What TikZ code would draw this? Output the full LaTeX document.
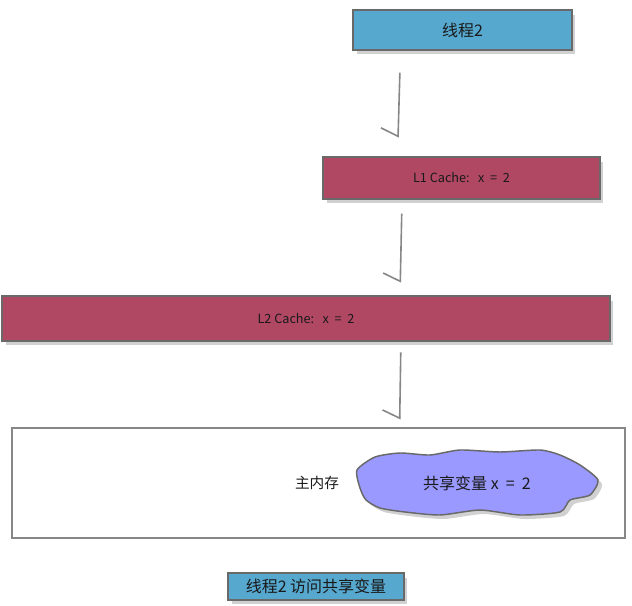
\documentclass[tikz,border=0pt]{standalone}
\usepackage{fontspec}
\setmainfont{Noto Sans CJK SC}
\usetikzlibrary{arrows.meta}
\definecolor{tblue}{RGB}{86,168,207}
\definecolor{crim}{RGB}{176,72,100}
\definecolor{blobc}{RGB}{153,153,255}
\definecolor{edge}{RGB}{105,105,105}
\definecolor{txt}{RGB}{25,25,25}
\tikzset{
  box/.style={draw=edge, line width=1.1pt, inner sep=0pt, text=txt},
  bluebox/.style={box, fill=tblue},
  crimbox/.style={box, fill=crim},
  conn/.style={draw=edge!80, line width=1.2pt, -{Straight Barb[harpoon,swap,length=6pt,width=26pt]}},
  shad/.style={fill=black, opacity=0.18},
}
\begin{document}
\begin{tikzpicture}[x=0.75pt,y=-0.75pt]
\useasboundingbox (0,0) rectangle (632,606);
% shadows
\fill[shad] (357,15) rectangle (575,54);
\fill[shad] (327,162) rectangle (603,203);
\fill[shad] (6,301) rectangle (613,345);
\fill[shad] (232,578) rectangle (407,604);
% boxes
\node[bluebox, minimum width=164.25pt, minimum height=30pt] (thread) at (462.5,30) {\fontsize{12}{14}\selectfont 线程2};
\node[crimbox, minimum width=207.75pt, minimum height=31.5pt] (l1) at (461.5,178) {\fontsize{9.5}{11}\selectfont L1 Cache:\ \ \ x\ \ =\ \ 2};
\node[crimbox, minimum width=456pt, minimum height=33.75pt] (l2) at (306,318.5) {\fontsize{9.5}{11}\selectfont L2 Cache:\ \ \ x\ \ =\ \ 2};
\node[box, fill=white, draw=edge!80, line width=0.8pt, minimum width=459.75pt, minimum height=82.5pt] (mem) at (318.5,483) {};
\node[text=txt] (memlbl) at (317,483) {\fontsize{11}{13}\selectfont 主内存};
% blob
\fill[shad] plot[smooth cycle, tension=0.4] coordinates {(361,474) (379,461) (404,457) (434,459) (464,454) (504,456) (544,454) (564,459) (584,469) (602,484) (594,499) (574,504) (564,516) (524,519) (484,514) (444,519) (409,516) (384,512) (370,504) (364,492)};
\draw[draw=edge, line width=1.1pt, fill=blobc] plot[smooth cycle, tension=0.4] coordinates {(357,470) (375,457) (400,453) (430,455) (460,450) (500,452) (540,450) (560,455) (580,465) (598,480) (590,495) (570,500) (560,512) (520,515) (480,510) (440,515) (405,512) (380,508) (366,500) (360,488)};
\node[text=txt] (var) at (477,483) {\fontsize{12}{14}\selectfont 共享变量 x\ \ =\ \ 2};
% caption
\node[bluebox, minimum width=132pt, minimum height=20.25pt] (cap) at (316,586.5) {\fontsize{12}{14}\selectfont 线程2 访问共享变量};
% connectors
\draw[conn, shorten <=16.5pt, shorten >=14pt] ([xshift=-46.5pt]thread.south) -- ([xshift=-48pt]l1.north);
\draw[conn, shorten <=10.5pt, shorten >=9.5pt] ([xshift=-44.6pt]l1.south) -- ([xshift=70.5pt]l2.north);
\draw[conn, shorten <=8pt, shorten >=6pt] ([xshift=71.2pt]l2.south) -- ([xshift=60.8pt]mem.north);
\end{tikzpicture}
\end{document}
